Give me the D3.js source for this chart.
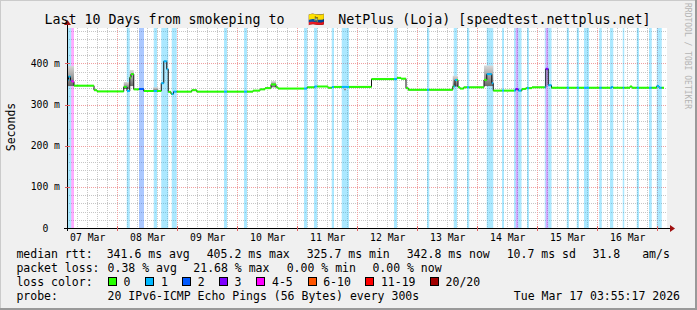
<!DOCTYPE html>
<html>
<head>
<meta charset="utf-8">
<script src="https://cdn.jsdelivr.net/npm/d3@7"></script>
<style>
  html, body { margin: 0; padding: 0; background: #f0f0f0; }
  svg { display: block; }
  text { font-family: "DejaVu Sans Mono", monospace; fill: #000; }
</style>
</head>
<body>
<svg id="chart" width="697" height="310"></svg>
<script>
(function () {
  'use strict';

  // graph window (UTC), 10 days ending at the probe time
  var startTime = Date.UTC(2026, 2, 7, 3, 55, 17);
  var endTime = Date.UTC(2026, 2, 17, 3, 55, 17);
  var yMax = 486.2;

  // median rtt as steps: hour since start -> ms
  var medianHour = [0, 0.6, 1.4, 2.0, 2.8, 10.8, 12.0, 22.7, 24.0, 25.1,
    25.6, 26.7, 28.7, 30.7, 37.7, 38.7, 39.9, 40.5, 41.6, 42.6,
    49.9, 51.9, 74.4, 77.2, 79.2, 81.6, 83.6, 84.4, 96.0, 99.1,
    104.4, 106.0, 121.8, 132.0, 133.6, 135.6, 136.5, 154.3, 155.2, 156.4,
    157.2, 158.7, 166.8, 167.9, 169.9, 170.5, 179.5, 180.5, 182.0, 183.5,
    186.0, 191.5, 192.5, 193.8, 217.8, 218.4, 225.2, 226.0, 235.9, 236.8];
  var medianMs = [360, 368, 358, 356, 346, 335, 332, 343, 333, 366,
    374, 337, 338, 333, 352, 405.2, 386, 331, 325.7, 331.5,
    335, 331.5, 334, 337, 340, 349, 342, 339, 342, 344,
    341, 343, 362, 365, 363, 340, 336, 344, 360, 342,
    339, 342, 360, 374, 352, 334, 338, 334, 338, 340,
    342, 387, 347, 341, 343, 341, 344, 341, 345, 341];
  var medianEndHour = 238.8;

  // periods with packet loss (index into lossNames)
  var lossFrom = [0, 1.7, 23.9, 28.8, 34.7, 37.7, 41.9, 62.8, 70.8, 94.8,
    98.8, 105.9, 109.9, 130.8, 144.0, 154.7, 160.0, 167.9, 174.0, 178.8,
    179.5, 180.5, 184.0, 191.1, 191.5, 192.5, 199.9, 203.9, 206.8, 212.9,
    217.2, 222.3, 227.9, 232.8, 235.9];
  var lossTo = [1.7, 2.8, 25.1, 30.8, 36.0, 40.5, 43.9, 64.0, 72.0, 96.1,
    100.1, 106.8, 112.8, 132.0, 144.9, 156.0, 160.9, 170.5, 174.8, 179.5,
    180.5, 181.8, 184.8, 191.5, 192.5, 193.8, 200.8, 204.8, 208.8, 213.9,
    218.5, 222.9, 228.8, 233.9, 237.9];
  var lossLevel = [1, 4, 1, 2, 1, 1, 1, 1, 1, 1,
    1, 1, 1, 1, 1, 1, 1, 1, 1, 1,
    3, 1, 1, 1, 3, 1, 1, 1, 1, 1,
    1, 1, 1, 1, 1];

  // smoke (spread of the pings) where it is visible
  var smokeFrom = [0, 22.7, 25.1, 34.5, 81.6, 110.8, 154.3, 166.8];
  var smokeTo = [2.8, 25.1, 26.7, 36.5, 83.6, 111.6, 156.4, 170.5];
  var smokeLow = [345, 338, 345, 333, 342, 335, 344, 345];
  var smokeHigh = [394, 355, 384, 342, 357, 340, 370, 395];

  var lossNames = ['0', '1', '2', '3', '4-5', '6-10', '11-19', '20/20'];
  var lossColors = ['#26ff00', '#00b8ff', '#0059ff', '#7e00ff', '#ff00ff', '#ff5500', '#ff0000', '#a10000'];

  var yTicks = [0, 100, 200, 300, 400];
  var yTickLabels = ['0\u00a0\u00a0', '100 m', '200 m', '300 m', '400 m'];
  var dayLabels = ['07 Mar', '08 Mar', '09 Mar', '10 Mar', '11 Mar', '12 Mar', '13 Mar', '14 Mar', '15 Mar', '16 Mar'];

  var titleStart = 'Last 10 Days from smokeping to ';
  var titleFlag = '\uD83C\uDDEA\uD83C\uDDE8';
  var titleEnd = 'NetPlus (Loja) [speedtest.nettplus.net]';
  var rttLegend = ['341.6 ms avg', '405.2 ms max', '325.7 ms min', '342.8 ms now', '10.7 ms sd', '31.8', 'am/s'];
  var lossLegend = ['0.38 % avg', '21.68 % max', '0.00 % min', '0.00 % now'];
  var probeText = '20 IPv6-ICMP Echo Pings (56 Bytes) every 300s';
  var stampText = 'Tue Mar 17 03:55:17 2026';

  ////

  var W = 697, H = 310;
  var plot = {left: 67, right: 667, top: 28, bottom: 228};

  var svg = d3.select('#chart');

  var x = d3.scaleUtc()
      .domain([new Date(startTime), new Date(endTime)])
      .range([plot.left, plot.right]);
  var y = d3.scaleLinear()
      .domain([0, yMax])
      .range([plot.bottom, plot.top]);

  function hx(h) {
    return x(new Date(startTime + h * 3600e3));
  }

  // background + shade frame
  svg.append('rect').attr('width', W).attr('height', H).attr('fill', '#f0f0f0');
  svg.append('path').attr('d', 'M0,' + H + 'V0H' + W).attr('fill', 'none')
      .attr('stroke', '#cbcbcb').attr('stroke-width', 2);
  svg.append('path').attr('d', 'M0,' + (H - 1) + 'H' + (W - 1) + 'V0').attr('fill', 'none')
      .attr('stroke', '#999').attr('stroke-width', 2);
  svg.append('rect')
      .attr('x', plot.left).attr('y', plot.top)
      .attr('width', plot.right - plot.left).attr('height', plot.bottom - plot.top)
      .attr('fill', '#fff');

  // grid
  var grid = svg.append('g').attr('shape-rendering', 'crispEdges');
  var minorY = d3.range(20, yMax, 20).filter(function (v) { return v % 100 !== 0; });
  var majorY = yTicks.filter(function (v) { return v > 0; });
  var minorX = d3.utcHour.every(4).range(new Date(startTime), new Date(endTime))
      .filter(function (d) { return d.getUTCHours() !== 0; });
  var majorX = d3.utcDay.range(new Date(startTime), new Date(endTime));

  function hLines(vals, color) {
    grid.selectAll(null).data(vals).enter().append('line')
        .attr('x1', plot.left).attr('x2', plot.right)
        .attr('y1', function (d) { return Math.round(y(d)) + 0.5; })
        .attr('y2', function (d) { return Math.round(y(d)) + 0.5; })
        .attr('stroke', color).attr('stroke-dasharray', '1,1');
  }
  function vLines(vals, color) {
    grid.selectAll(null).data(vals).enter().append('line')
        .attr('y1', plot.top).attr('y2', plot.bottom)
        .attr('x1', function (d) { return Math.round(x(d)) + 0.5; })
        .attr('x2', function (d) { return Math.round(x(d)) + 0.5; })
        .attr('stroke', color).attr('stroke-dasharray', '1,1');
  }
  hLines(minorY, '#c6c6c6');
  vLines(minorX, '#c6c6c6');
  hLines(majorY, '#f0a0a0');
  vLines(majorX, '#f0a0a0');

  // loss background bands
  svg.append('g').selectAll('rect')
      .data(d3.range(lossFrom.length))
      .enter().append('rect')
      .attr('x', function (i) { return hx(lossFrom[i]); })
      .attr('width', function (i) { return hx(lossTo[i]) - hx(lossFrom[i]); })
      .attr('y', plot.top)
      .attr('height', plot.bottom - plot.top)
      .attr('fill', function (i) { return lossColors[lossLevel[i]]; })
      .attr('fill-opacity', 0.33);

  // smoke
  var defs = svg.append('defs');
  var grad = defs.append('linearGradient').attr('id', 'smoke')
      .attr('x1', 0).attr('y1', 0).attr('x2', 0).attr('y2', 1);
  grad.append('stop').attr('offset', '0%').attr('stop-color', '#d8d8d8');
  grad.append('stop').attr('offset', '100%').attr('stop-color', '#6a6a6a');

  svg.append('g').selectAll('rect')
      .data(d3.range(smokeFrom.length))
      .enter().append('rect')
      .attr('x', function (i) { return hx(smokeFrom[i]); })
      .attr('width', function (i) { return hx(smokeTo[i]) - hx(smokeFrom[i]); })
      .attr('y', function (i) { return y(smokeHigh[i]); })
      .attr('height', function (i) { return y(smokeLow[i]) - y(smokeHigh[i]); })
      .attr('fill', 'url(#smoke)');

  // median: thin dark step line, coloured horizontals on top
  var stepPts = medianHour.map(function (h, i) { return [h, medianMs[i]]; });
  stepPts.push([medianEndHour, medianMs[medianMs.length - 1]]);

  var stepLine = d3.line()
      .x(function (d) { return hx(d[0]); })
      .y(function (d) { return y(d[1]); })
      .curve(d3.curveStepAfter);

  svg.append('path')
      .attr('d', stepLine(stepPts))
      .attr('fill', 'none')
      .attr('stroke', '#111')
      .attr('stroke-width', 1);

  function lossAt(h) {
    for (var i = 0; i < lossFrom.length; i++) {
      if (h >= lossFrom[i] && h < lossTo[i]) return lossLevel[i];
    }
    return 0;
  }

  var pieces = [];
  medianHour.forEach(function (a, i) {
    var b = i + 1 < medianHour.length ? medianHour[i + 1] : medianEndHour;
    var cuts = [a, b];
    lossFrom.concat(lossTo).forEach(function (c) {
      if (c > a && c < b) cuts.push(c);
    });
    cuts.sort(d3.ascending);
    for (var k = 0; k < cuts.length - 1; k++) {
      pieces.push({
        from: cuts[k], to: cuts[k + 1], ms: medianMs[i],
        level: lossAt((cuts[k] + cuts[k + 1]) / 2)
      });
    }
  });

  svg.append('g').selectAll('line')
      .data(pieces)
      .enter().append('line')
      .attr('x1', function (d) { return hx(d.from); })
      .attr('x2', function (d) { return hx(d.to); })
      .attr('y1', function (d) { return y(d.ms); })
      .attr('y2', function (d) { return y(d.ms); })
      .attr('stroke', function (d) { return lossColors[d.level]; })
      .attr('stroke-width', 2);

  // axes lines and arrows
  var axisG = svg.append('g').attr('shape-rendering', 'crispEdges');
  axisG.append('line')
      .attr('x1', plot.left - 3).attr('x2', plot.right + 4)
      .attr('y1', plot.bottom + 0.5).attr('y2', plot.bottom + 0.5)
      .attr('stroke', '#000');
  axisG.append('line')
      .attr('x1', plot.left + 0.5).attr('x2', plot.left + 0.5)
      .attr('y1', plot.bottom + 3).attr('y2', plot.top - 4)
      .attr('stroke', '#000');
  axisG.selectAll(null).data(majorX).enter().append('line')
      .attr('x1', function (d) { return Math.round(x(d)) + 0.5; })
      .attr('x2', function (d) { return Math.round(x(d)) + 0.5; })
      .attr('y1', plot.bottom - 2).attr('y2', plot.bottom + 3)
      .attr('stroke', '#e06060');
  axisG.selectAll(null).data(majorY).enter().append('line')
      .attr('y1', function (d) { return Math.round(y(d)) + 0.5; })
      .attr('y2', function (d) { return Math.round(y(d)) + 0.5; })
      .attr('x1', plot.left - 2).attr('x2', plot.left + 3)
      .attr('stroke', '#e06060');

  svg.append('path')
      .attr('d', 'M' + (plot.right + 3) + ',' + (plot.bottom - 3) + 'L' + (plot.right + 8) + ',' + (plot.bottom + 0.5) + 'L' + (plot.right + 3) + ',' + (plot.bottom + 4) + 'Z')
      .attr('fill', '#a01010');
  svg.append('path')
      .attr('d', 'M' + (plot.left - 3) + ',' + (plot.top - 3) + 'L' + (plot.left + 0.5) + ',' + (plot.top - 8) + 'L' + (plot.left + 4) + ',' + (plot.top - 3) + 'Z')
      .attr('fill', '#a01010');

  // tick labels
  var dayNoons = dayLabels.map(function (l, i) { return new Date(Date.UTC(2026, 2, 7 + i, 12)); });

  var xAxis = d3.axisBottom(x)
      .tickValues(dayNoons)
      .tickFormat(function (d, i) { return dayLabels[i]; })
      .tickSize(0)
      .tickPadding(6);
  var gx = svg.append('g')
      .attr('transform', 'translate(0,' + plot.bottom + ')')
      .call(xAxis);

  var yAxis = d3.axisLeft(y)
      .tickValues(yTicks)
      .tickFormat(function (d, i) { return yTickLabels[i]; })
      .tickSize(0)
      .tickPadding(7);
  var gy = svg.append('g')
      .attr('transform', 'translate(' + plot.left + ',0)')
      .call(yAxis);

  [gx, gy].forEach(function (g) {
    g.select('.domain').remove();
    g.attr('font-family', null).attr('font-size', null);
    g.selectAll('text')
        .style('font-family', '"DejaVu Sans Mono", monospace')
        .style('font-size', '9.75px')
        .style('fill', '#000');
  });

  // titles
  svg.append('text')
      .attr('x', 44.4).attr('y', 23.5)
      .style('font-size', '13.3px')
      .text(titleStart);
  svg.append('text')
      .attr('x', 316).attr('y', 23.5)
      .attr('text-anchor', 'middle')
      .style('font-size', '13.3px')
      .text(titleFlag);
  svg.append('text')
      .attr('x', 650.5).attr('y', 23.5)
      .attr('text-anchor', 'end')
      .style('font-size', '13.3px')
      .text(titleEnd);

  svg.append('text')
      .attr('transform', 'translate(11,127) rotate(-90)')
      .attr('text-anchor', 'middle')
      .attr('dominant-baseline', 'central')
      .style('font-size', '11.5px')
      .text('Seconds');

  svg.append('text')
      .attr('transform', 'translate(687,3) rotate(90)')
      .attr('dominant-baseline', 'central')
      .style('font-size', '8px')
      .style('fill', '#b4b4b4')
      .text('RRDTOOL / TOBI OETIKER');

  // legend
  var lg = svg.append('g').style('font-size', '11.5px');
  var rowY = [258, 272, 286, 299.5];

  lg.append('text').attr('x', 16.4).attr('y', rowY[0]).text('median rtt:');
  var rttX = [106.7, 206.7, 306.7, 406.7, 506.7, 592.4, 642.2];
  rttLegend.forEach(function (t, i) {
    lg.append('text').attr('x', rttX[i]).attr('y', rowY[0]).text(t);
  });

  lg.append('text').attr('x', 16.4).attr('y', rowY[1]).text('packet loss:');
  var lossX = [107.6, 193.3, 286.7, 372.4];
  lossLegend.forEach(function (t, i) {
    lg.append('text').attr('x', lossX[i]).attr('y', rowY[1]).text(t);
  });

  lg.append('text').attr('x', 16.4).attr('y', rowY[2]).text('loss color:');
  var boxX = [108, 145.3, 182.2, 219, 256.4, 307.6, 365.3, 430];
  lossNames.forEach(function (name, i) {
    lg.append('rect')
        .attr('x', Math.round(boxX[i]) + 0.5).attr('y', 277.5)
        .attr('width', 8).attr('height', 8)
        .attr('fill', lossColors[i])
        .attr('stroke', '#000').attr('stroke-width', 1);
    lg.append('text').attr('x', boxX[i] + 15.6).attr('y', rowY[2]).text(name);
  });

  lg.append('text').attr('x', 16.4).attr('y', rowY[3]).text('probe:');
  lg.append('text').attr('x', 107.6).attr('y', rowY[3]).text(probeText);
  lg.append('text').attr('x', 680).attr('y', rowY[3]).attr('text-anchor', 'end').text(stampText);
})();
</script>
</body>
</html>
